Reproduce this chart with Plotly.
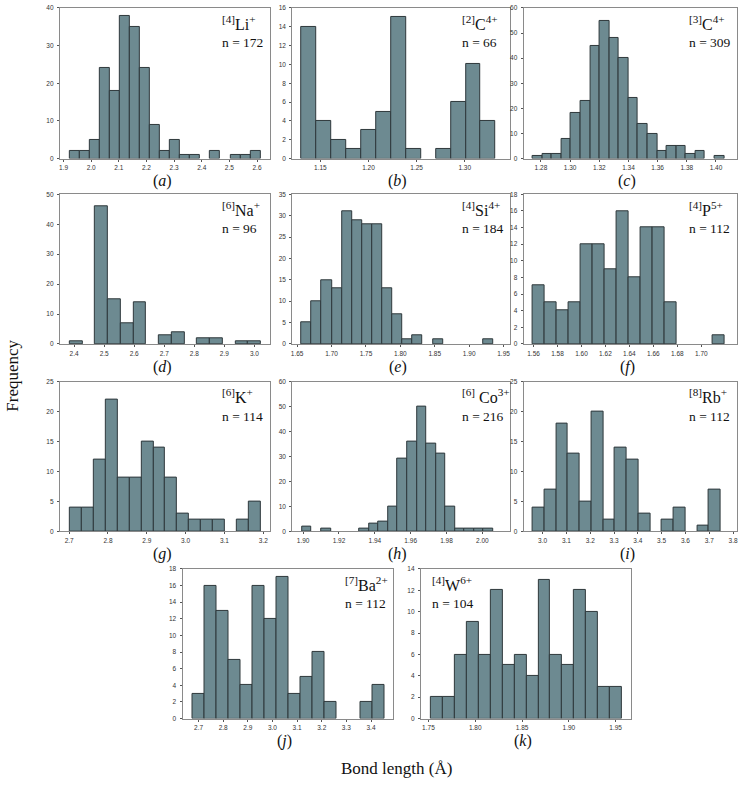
import plotly.graph_objects as go

W, H = 740, 787

# ---------------- data ----------------
li_start, li_width = 1.9228, 0.0363
li_counts = [2, 2, 5, 24, 18, 38, 35, 24, 9, 2, 5, 1, 1, 0, 2, 0, 1, 1, 2]

c2_start, c2_width = 1.1303, 0.01552
c2_counts = [14, 4, 2, 1, 3, 5, 15, 1, 0, 1, 6, 10, 4]

c3_start, c3_width = 1.2743, 0.006564
c3_counts = [1, 2, 2, 8, 18, 23, 45, 55, 48, 40, 24, 14, 10, 3, 5, 5, 2, 3, 0, 1]

na_start, na_width = 2.3856, 0.0424
na_counts = [1, 0, 46, 15, 7, 14, 0, 3, 4, 0, 2, 2, 0, 1, 1]

si_start, si_width = 1.6563, 0.01467
si_counts = [5, 10, 15, 13, 31, 29, 28, 28, 13, 7, 1, 2, 0, 1, 0, 0, 0, 0, 1]

p_start, p_width = 1.5592, 0.01
p_counts = [7, 5, 4, 5, 12, 12, 9, 16, 8, 14, 14, 5, 0, 0, 0, 1]

k_start, k_width = 2.7017, 0.03075
k_counts = [4, 4, 12, 22, 9, 9, 15, 14, 9, 3, 2, 2, 2, 0, 2, 5]

co_start, co_width = 1.8994, 0.00533
co_counts = [2, 0, 1, 0, 0, 0, 1, 3, 4, 10, 29, 36, 50, 35, 31, 10, 1, 1, 1, 1]

rb_start, rb_width = 2.959, 0.0493
rb_counts = [4, 7, 18, 13, 5, 20, 2, 14, 12, 3, 0, 2, 4, 0, 1, 7]

ba_start, ba_width = 2.677, 0.0486
ba_counts = [3, 16, 13, 7, 4, 16, 12, 17, 3, 5, 8, 2, 0, 0, 2, 4]

w_start, w_width = 1.7525, 0.01277
w_counts = [2, 2, 6, 9, 6, 12, 5, 6, 4, 13, 6, 5, 12, 10, 3, 3]

species = ["<sup>[4]</sup>Li<sup>+</sup>", "<sup>[2]</sup>C<sup>4+</sup>", "<sup>[3]</sup>C<sup>4+</sup>",
           "<sup>[6]</sup>Na<sup>+</sup>", "<sup>[4]</sup>Si<sup>4+</sup>", "<sup>[4]</sup>P<sup>5+</sup>",
           "<sup>[6]</sup>K<sup>+</sup>", "<sup>[6]</sup> Co<sup>3+</sup>", "<sup>[8]</sup>Rb<sup>+</sup>",
           "<sup>[7]</sup>Ba<sup>2+</sup>", "<sup>[4]</sup>W<sup>6+</sup>"]
n_values = [172, 66, 309, 96, 184, 112, 114, 216, 112, 112, 104]
letters = ["a", "b", "c", "d", "e", "f", "g", "h", "i", "j", "k"]

x_ticks = [
    [1.9, 2.0, 2.1, 2.2, 2.3, 2.4, 2.5, 2.6],
    [1.15, 1.20, 1.25, 1.30],
    [1.28, 1.30, 1.32, 1.34, 1.36, 1.38, 1.40],
    [2.4, 2.5, 2.6, 2.7, 2.8, 2.9, 3.0],
    [1.65, 1.70, 1.75, 1.80, 1.85, 1.90, 1.95],
    [1.56, 1.58, 1.60, 1.62, 1.64, 1.66, 1.68, 1.70],
    [2.7, 2.8, 2.9, 3.0, 3.1, 3.2],
    [1.90, 1.92, 1.94, 1.96, 1.98, 2.00],
    [3.0, 3.1, 3.2, 3.3, 3.4, 3.5, 3.6, 3.7, 3.8],
    [2.7, 2.8, 2.9, 3.0, 3.1, 3.2, 3.3, 3.4],
    [1.75, 1.80, 1.85, 1.90, 1.95],
]
x_fmt = [".1f", ".2f", ".2f", ".1f", ".2f", ".2f", ".1f", ".2f", ".1f", ".1f", ".2f"]
y_max = [40, 16, 60, 50, 35, 18, 25, 60, 25, 18, 14]
y_step = [10, 2, 10, 10, 5, 2, 5, 10, 5, 2, 2]

hists = [
    (li_start, li_width, li_counts), (c2_start, c2_width, c2_counts), (c3_start, c3_width, c3_counts),
    (na_start, na_width, na_counts), (si_start, si_width, si_counts), (p_start, p_width, p_counts),
    (k_start, k_width, k_counts), (co_start, co_width, co_counts), (rb_start, rb_width, rb_counts),
    (ba_start, ba_width, ba_counts), (w_start, w_width, w_counts),
]

# ---------------- layout (pixels) ----------------
boxes = [
    (59, 270, 4, 156), (292, 510, 4, 156), (524, 738, 4, 156),
    (59, 270, 192, 343), (292, 510, 192, 343), (524, 738, 192, 343),
    (59, 270, 381, 532), (292, 510, 381, 532), (524, 738, 381, 532),
    (182, 393, 570, 721), (421, 632, 570, 721),
]
x_ranges = [
    [1.8866, 2.648], [1.1207, 1.3466], [1.2681, 1.4144],
    [2.3525, 3.0528], [1.6428, 1.9588], [1.5517, 1.7298],
    [2.676, 3.218], [1.8939, 2.0152], [2.920, 3.8167],
    [2.635, 3.489], [1.7419, 1.9667],
]

BAR_FILL = "#6d8a91"
BAR_LINE = "#2e383b"
FRAME = "#8a8a8a"
SERIF = "Liberation Serif"
SANS = "Liberation Sans"

fig = go.Figure()
annotations = []
for i, ((start, width, counts), (l, r, t, b)) in enumerate(zip(hists, boxes)):
    idx = "" if i == 0 else str(i + 1)
    centers = [start + width * (j + 0.5) for j in range(len(counts))]
    vals = [c if c > 0 else None for c in counts]
    fig.add_trace(go.Bar(
        x=centers, y=vals, width=[width] * len(counts),
        marker=dict(color=BAR_FILL, line=dict(color=BAR_LINE, width=1)),
        xaxis="x" + idx, yaxis="y" + idx, showlegend=False, hoverinfo="skip",
    ))
    xd = [l / W, r / W]
    yd = [1 - b / H, 1 - t / H]
    common = dict(showline=True, linecolor=FRAME, linewidth=1, mirror=True,
                  ticks="outside", ticklen=2, tickwidth=1, tickcolor="#555",
                  showgrid=False, zeroline=False,
                  tickfont=dict(family=SANS, size=6.5, color="#333"))
    fig.update_layout(**{
        "xaxis" + idx: dict(domain=xd, range=x_ranges[i], anchor="y" + idx,
                            tickvals=x_ticks[i], tickformat=x_fmt[i], ticklabelstandoff=1, **common),
        "yaxis" + idx: dict(domain=yd, range=[0, y_max[i]], anchor="x" + idx,
                            tick0=0, dtick=y_step[i], ticklabelstandoff=2, **common),
    })
    ax_x = (l + 9) / W if i == 10 else (r - 50) / W
    annotations.append(dict(x=ax_x, y=1 - (t + 15) / H, xref="paper", yref="paper",
                            text=species[i], showarrow=False, xanchor="left", yanchor="middle",
                            font=dict(family=SERIF, size=16, color="#111")))
    annotations.append(dict(x=ax_x, y=1 - (t + 35) / H, xref="paper", yref="paper",
                            text="n = %d" % n_values[i], showarrow=False, xanchor="left", yanchor="middle",
                            font=dict(family=SERIF, size=13.5, color="#111")))
    annotations.append(dict(x=(l + r) / 2 / W - 3 / W, y=1 - (b + 23) / H, xref="paper", yref="paper",
                            text="(<i>%s</i>)" % letters[i], showarrow=False,
                            xanchor="center", yanchor="middle",
                            font=dict(family=SERIF, size=16, color="#111")))

annotations.append(dict(x=12 / W, y=1 - 375 / H, xref="paper", yref="paper", text="Frequency",
                        showarrow=False, textangle=-90, xanchor="center", yanchor="middle",
                        font=dict(family=SERIF, size=17, color="#111")))
annotations.append(dict(x=397 / W, y=1 - 771 / H, xref="paper", yref="paper", text="Bond length (Å)",
                        showarrow=False, xanchor="center", yanchor="middle",
                        font=dict(family=SERIF, size=17, color="#111")))

fig.update_layout(width=W, height=H, margin=dict(l=0, r=0, t=0, b=0),
                  paper_bgcolor="white", plot_bgcolor="white", bargap=0,
                  annotations=annotations)
fig.write_html("out.html", config={"displayModeBar": False},
               post_script="document.body.style.margin='0px';document.body.style.overflow='hidden';")
